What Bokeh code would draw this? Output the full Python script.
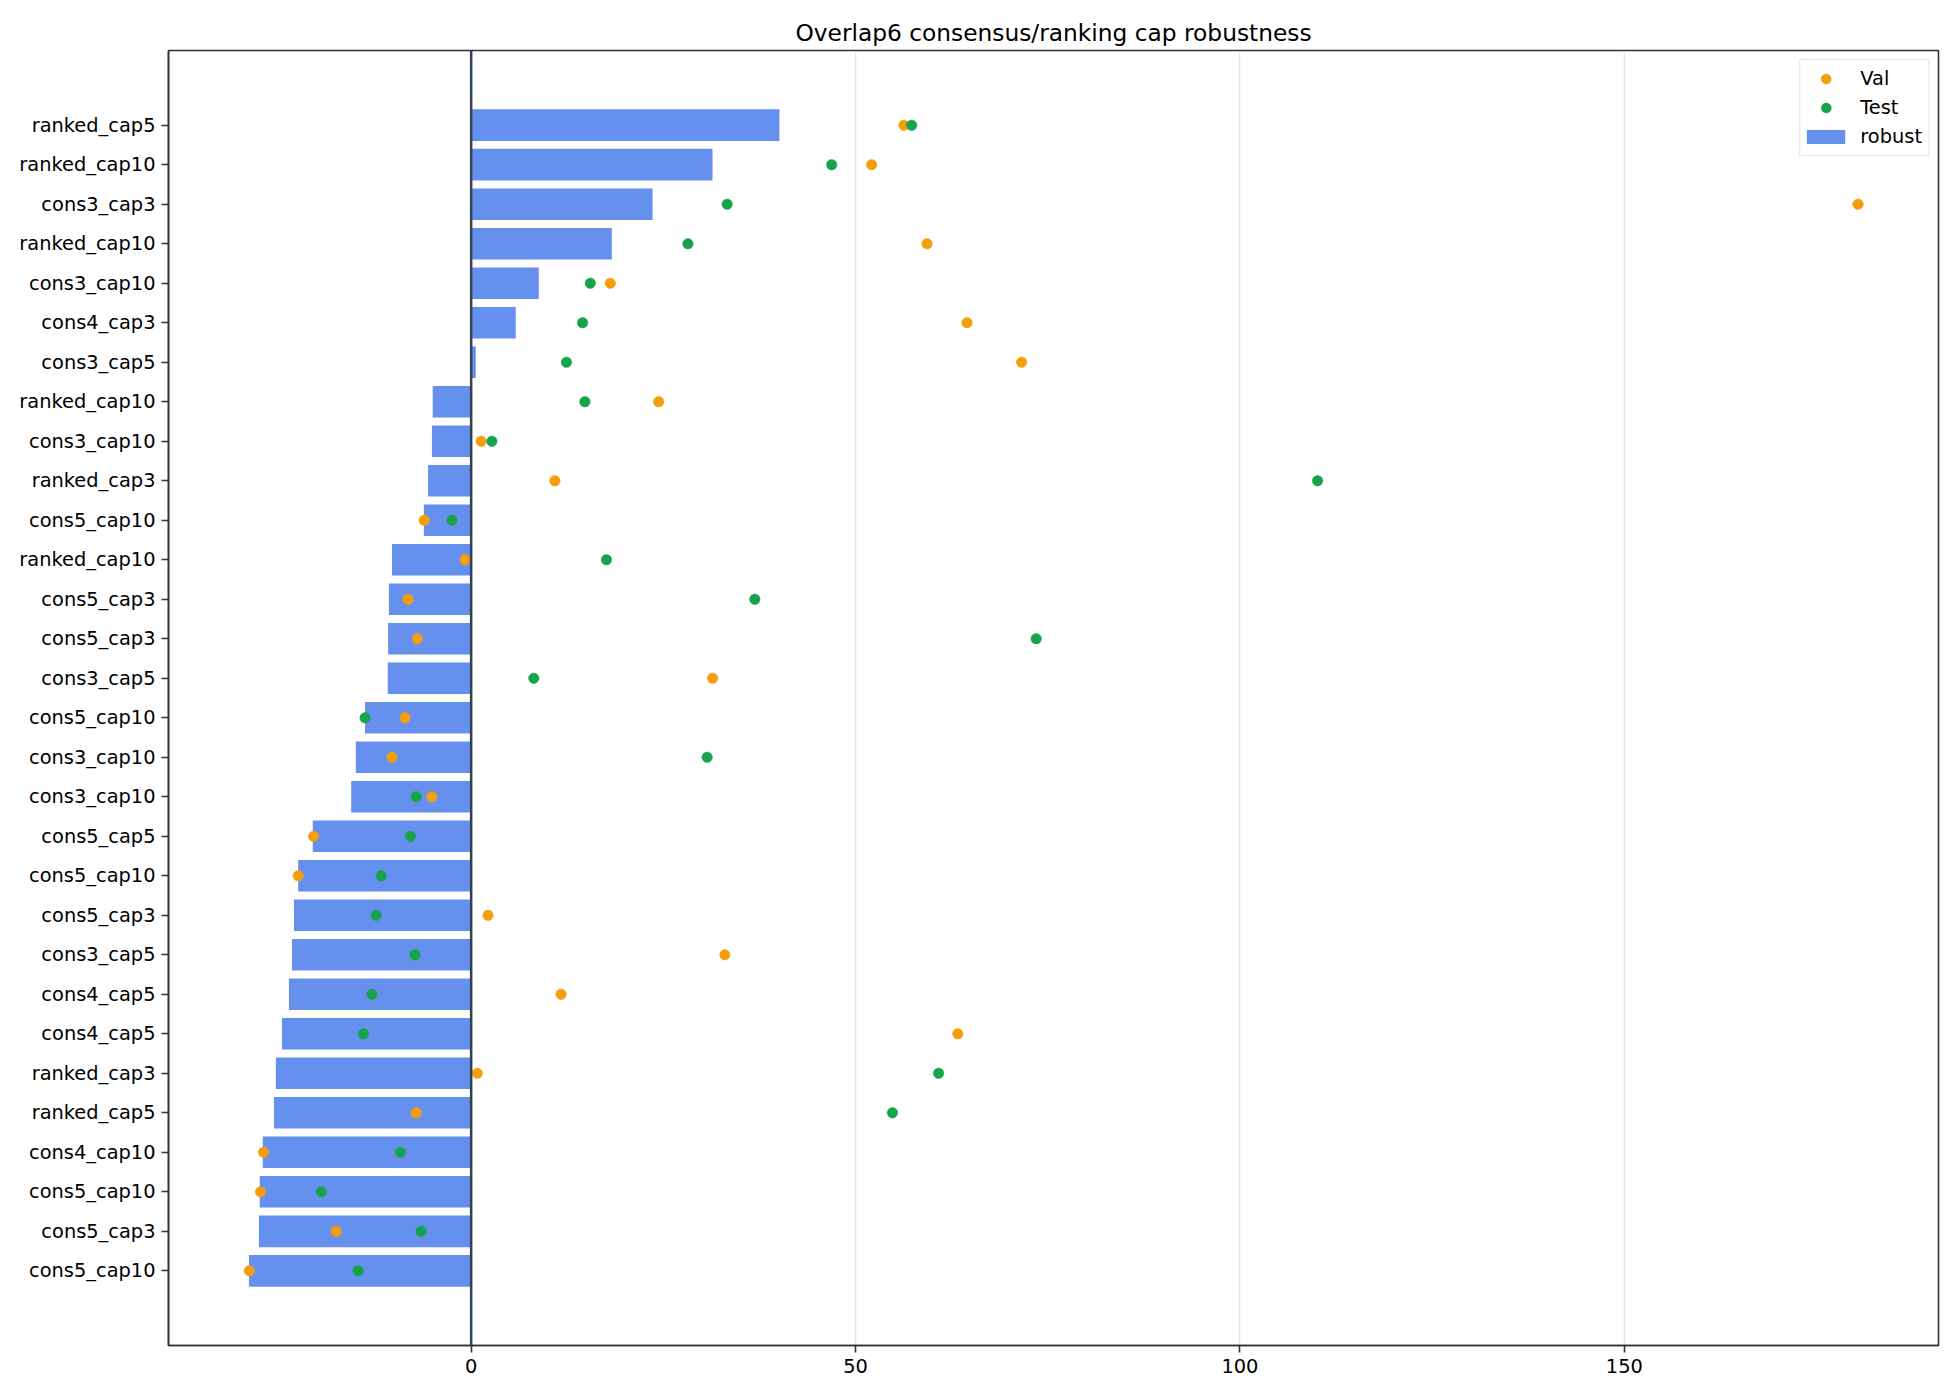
import numpy as np
from bokeh.plotting import figure
from bokeh.models import (ColumnDataSource, Range1d, FixedTicker, Legend, LegendItem, Span)
from bokeh.embed import file_html
from bokeh.resources import INLINE

labels = ["ranked_cap5", "ranked_cap10", "cons3_cap3", "ranked_cap10", "cons3_cap10",
          "cons4_cap3", "cons3_cap5", "ranked_cap10", "cons3_cap10", "ranked_cap3",
          "cons5_cap10", "ranked_cap10", "cons5_cap3", "cons5_cap3", "cons3_cap5",
          "cons5_cap10", "cons3_cap10", "cons3_cap10", "cons5_cap5", "cons5_cap10",
          "cons5_cap3", "cons3_cap5", "cons4_cap5", "cons4_cap5", "ranked_cap3",
          "ranked_cap5", "cons4_cap10", "cons5_cap10", "cons5_cap3", "cons5_cap10"]

robust = [40.1, 31.4, 23.6, 18.3, 8.8, 5.8, 0.6, -5.0, -5.1, -5.6,
          -6.15, -10.3, -10.7, -10.8, -10.85, -13.8, -15.0, -15.6, -20.6, -22.5,
          -23.05, -23.3, -23.7, -24.6, -25.4, -25.65, -27.1, -27.5, -27.6, -28.9]

val = [56.3, 52.1, 180.4, 59.3, 18.1, 64.5, 71.6, 24.4, 1.3, 10.9,
       -6.1, -0.8, -8.2, -7.0, 31.4, -8.6, -10.3, -5.1, -20.5, -22.5,
       2.2, 33.0, 11.7, 63.3, 0.8, -7.15, -27.0, -27.4, -17.55, -28.85]

test = [57.3, 46.9, 33.3, 28.2, 15.5, 14.5, 12.4, 14.8, 2.7, 110.1,
        -2.5, 17.6, 36.9, 73.5, 8.15, -13.8, 30.7, -7.15, -7.9, -11.7,
        -12.35, -7.3, -12.9, -14.0, 60.8, 54.8, -9.2, -19.5, -6.5, -14.7]

title = "Overlap6 consensus/ranking cap robustness"
x_ticks = [0, 50, 100, 150]

FONT = "DejaVu Sans"
BAR = "#6690EE"
ORANGE = "#f59e0b"
GREEN = "#16a34a"
SPINE = "#333333"

n = len(labels)
ypos = list(range(n))
src = ColumnDataSource(dict(y=ypos, robust=robust, val=val, test=test, label=labels))

allx = np.array(robust + val + test + [0.0])
xmin, xmax = allx.min(), allx.max()
span = xmax - xmin
bar_h = 0.8
ylo, yhi = -bar_h / 2, n - 1 + bar_h / 2
ypad = (yhi - ylo) * 0.05

W, H = 1950, 1390
p = figure(width=W, height=H, output_backend="svg", toolbar_location=None,
           x_range=Range1d(xmin - 0.05 * span, xmax + 0.05 * span),
           y_range=Range1d(yhi + ypad, ylo - ypad),
           min_border_left=168, min_border_right=W - 1938,
           min_border_top=50, min_border_bottom=H - 1345)

p.title.text = title
p.title.align = "center"
p.title.text_font = FONT
p.title.text_font_size = "23.3px"
p.title.text_font_style = "normal"
p.title.text_color = "black"

bars = p.hbar(y="y", right="robust", left=0, height=bar_h, source=src,
              fill_color=BAR, line_color=None)

zero = Span(location=0, dimension="height", line_color="#334155", line_width=2.5)
p.add_layout(zero)

sv = p.scatter(x="val", y="y", source=src, size=10.5, fill_color=ORANGE, line_color=ORANGE, line_width=0.5)
st = p.scatter(x="test", y="y", source=src, size=10.5, fill_color=GREEN, line_color=GREEN, line_width=0.5)

# legend-only swatch for the bars (a thick butt-capped line draws a flat patch; no visible data)
bar_key = p.line(x=[np.nan, np.nan], y=[np.nan, np.nan], line_color=BAR, line_width=14, line_cap="butt")

# axes styling
p.xaxis.ticker = FixedTicker(ticks=x_ticks)
p.yaxis.ticker = FixedTicker(ticks=ypos)
p.yaxis.major_label_overrides = {i: labels[i] for i in ypos}
for ax in (p.xaxis[0], p.yaxis[0]):
    ax.major_label_text_font = FONT
    ax.major_label_text_font_size = "19.4px"
    ax.major_label_text_color = "black"
    ax.axis_line_color = SPINE
    ax.axis_line_width = 1.6
    ax.major_tick_line_color = SPINE
    ax.major_tick_line_width = 1.6
    ax.major_tick_out = 7
    ax.major_tick_in = 0
    ax.minor_tick_out = 0
    ax.minor_tick_in = 0
    ax.major_label_standoff = 6

p.ygrid.grid_line_color = None
p.xgrid.grid_line_color = "#b0b0b0"
p.xgrid.grid_line_alpha = 0.3
p.xgrid.grid_line_width = 1.6
p.outline_line_color = SPINE
p.outline_line_width = 1.6
p.background_fill_color = "white"
p.border_fill_color = "white"

legend = Legend(items=[LegendItem(label="Val", renderers=[sv]),
                       LegendItem(label="Test", renderers=[st]),
                       LegendItem(label="robust", renderers=[bar_key])],
                location="top_right", margin=9, padding=6, spacing=4,
                glyph_width=39, glyph_height=25, label_height=25, label_standoff=15,
                label_text_font=FONT, label_text_font_size="19.4px",
                label_text_color="black",
                border_line_color="#d0d0d0", border_line_width=1.5,
                background_fill_alpha=0.8)
p.add_layout(legend)

open("out.html", "w").write(file_html(p, INLINE))
